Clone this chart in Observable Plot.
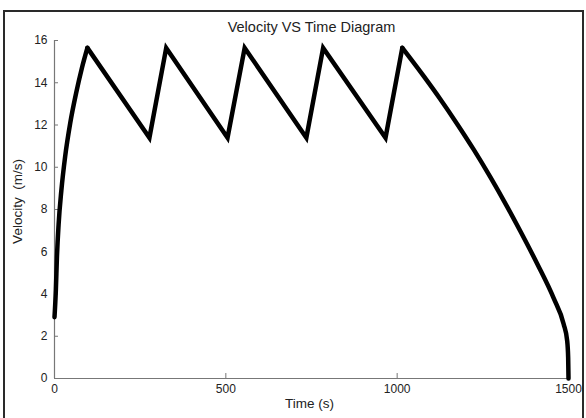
<!DOCTYPE html>
<html>
<head>
<meta charset="utf-8">
<script src="https://cdn.jsdelivr.net/npm/d3@7"></script>
<script src="https://cdn.jsdelivr.net/npm/@observablehq/plot@0.6"></script>
<style>
  html, body { margin: 0; padding: 0; background: #fff; overflow: hidden; }
  #wrap { position: relative; width: 586px; height: 418px; }
  #wrap svg { position: absolute; left: 0; top: 0; }
  #border { position: absolute; left: 3px; top: 10px; width: 577px; height: 430px;
            border: 2px solid #2a2a2a; pointer-events: none; }
</style>
</head>
<body>
<div id="wrap"><div id="border"></div></div>
<script>
const title = "Velocity VS Time Diagram";
const xLabel = "Time (s)";
const yLabel = "Velocity  (m/s)";

// Acceleration from the start to the first peak
const riseTime = [0, 4, 7, 12, 20, 31, 46, 63, 80, 96];
const riseVelocity = [2.9, 4.2, 5.7, 7.3, 8.9, 10.5, 12.1, 13.5, 14.7, 15.65];

// Coasting / re-accelerating sawtooth
const sawTime = [96, 277, 326, 505, 555, 735, 784, 966, 1015];
const sawVelocity = [15.65, 11.4, 15.65, 11.4, 15.65, 11.4, 15.65, 11.4, 15.65];

// Final deceleration to a stop
const stopTime = [1015, 1078, 1126, 1175, 1224, 1272, 1320, 1360, 1409, 1457, 1486, 1496, 1499, 1500];
const stopVelocity = [15.65, 14.3, 13.22, 12.05, 10.82, 9.53, 8.16, 6.96, 5.42, 3.79, 2.57, 1.8, 1.0, 0];

const xTicks = [0, 500, 1000, 1500];
const yTicks = [0, 2, 4, 6, 8, 10, 12, 14, 16];

const rise = riseTime.map((t, i) => ({t, v: riseVelocity[i]}));
const saw = sawTime.map((t, i) => ({t, v: sawVelocity[i]}));
const stop = stopTime.map((t, i) => ({t, v: stopVelocity[i]}));

const font = "Liberation Sans, Arial, Helvetica, sans-serif";
const lineStyle = {x: "t", y: "v", stroke: "#000", strokeWidth: 4.5, strokeLinejoin: "round", strokeLinecap: "round"};

const chart = Plot.plot({
  width: 586,
  height: 418,
  marginLeft: 54,
  marginRight: 18,
  marginTop: 40,
  marginBottom: 40,
  style: {fontFamily: font, fontSize: "11px", color: "#222", background: "transparent"},
  x: {domain: [0, 1500]},
  y: {domain: [0, 16]},
  marks: [
    Plot.ruleY([0], {stroke: "#777", strokeWidth: 1.2}),
    Plot.ruleX([0], {stroke: "#777", strokeWidth: 1.2}),
    Plot.axisX({ticks: xTicks, tickSize: -5, tickPadding: 11, tickFormat: d => String(d), label: null, stroke: "#777", fontSize: 12}),
    Plot.axisY({ticks: yTicks, tickSize: -4, tickPadding: 11, tickFormat: d => String(d), label: null, stroke: "#777", fontSize: 12}),
    Plot.line(rise, {...lineStyle, curve: "monotone-x"}),
    Plot.line(saw, {...lineStyle, strokeLinejoin: "miter", strokeMiterlimit: 3}),
    Plot.line(stop, {...lineStyle, curve: "monotone-x"}),
    Plot.text([title], {frameAnchor: "top", lineAnchor: "bottom", dy: -9, fontSize: 14.5, fill: "#222"}),
    Plot.text([xLabel], {frameAnchor: "bottom", lineAnchor: "bottom", dx: -2, dy: 29, fontSize: 13.5, fill: "#222"}),
    Plot.text([yLabel], {frameAnchor: "left", textAnchor: "middle", lineAnchor: "middle", rotate: -90, dx: -37, dy: -8, fontSize: 13.5, fill: "#222"})
  ]
});
document.getElementById("wrap").prepend(chart);
</script>
</body>
</html>
